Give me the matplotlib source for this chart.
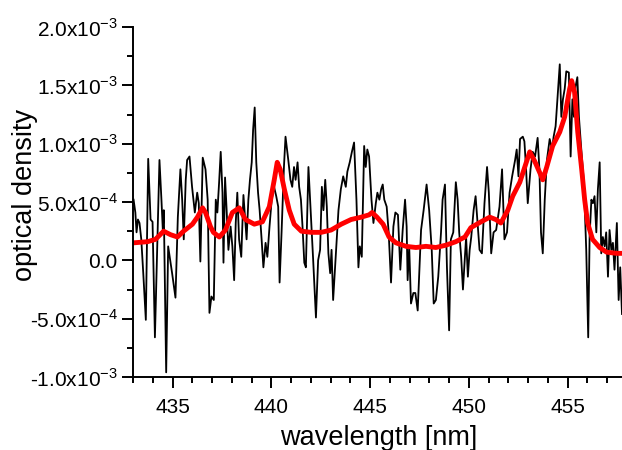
import numpy as np
import matplotlib
matplotlib.use("Agg")
import matplotlib.pyplot as plt
from matplotlib.ticker import MultipleLocator, FuncFormatter

plt.rcParams['font.family'] = ['Liberation Sans', 'DejaVu Sans']

# measured spectrum (black), wavelength in nm, optical density in units of 1e-4
wl_raw = [433.03, 433.12, 433.18, 433.25, 433.33, 433.42, 433.52, 433.65, 433.77, 433.89,
          433.99, 434.11, 434.23, 434.34, 434.44, 434.51, 434.56, 434.68, 434.78, 434.86,
          434.98, 435.15, 435.27, 435.40, 435.49, 435.57, 435.67, 435.74, 435.86, 435.99,
          436.13, 436.25, 436.33, 436.41, 436.53, 436.67, 436.78, 436.87, 436.97, 437.09,
          437.19, 437.27, 437.36, 437.44, 437.53, 437.58, 437.66, 437.74, 437.83, 437.94,
          438.03, 438.12, 438.20, 438.28, 438.37, 438.48, 438.59, 438.67, 438.75, 438.84,
          438.92, 439.01, 439.08, 439.16, 439.24, 439.33, 439.41, 439.51, 439.60, 439.71,
          439.80, 439.91, 440.02, 440.14, 440.25, 440.35, 440.42, 440.52, 440.64, 440.72,
          440.86, 440.97, 441.06, 441.15, 441.23, 441.33, 441.41, 441.50, 441.58, 441.67,
          441.75, 441.88, 442.01, 442.12, 442.26, 442.37, 442.47, 442.56, 442.64, 442.73,
          442.81, 442.89, 442.98, 443.05, 443.13, 443.27, 443.40, 443.52, 443.64, 443.77,
          443.85, 443.97, 444.08, 444.19, 444.31, 444.41, 444.48, 444.58, 444.70, 444.78,
          444.86, 444.95, 445.07, 445.17, 445.29, 445.37, 445.47, 445.56, 445.64, 445.72,
          445.84, 445.94, 446.06, 446.18, 446.28, 446.41, 446.53, 446.65, 446.77, 446.85,
          446.90, 446.98, 447.07, 447.19, 447.29, 447.41, 447.58, 447.71, 447.86, 447.99,
          448.12, 448.22, 448.33, 448.45, 448.59, 448.67, 448.79, 448.89, 449.00, 449.09,
          449.21, 449.34, 449.43, 449.51, 449.61, 449.70, 449.78, 449.86, 449.95, 450.04,
          450.12, 450.24, 450.34, 450.42, 450.54, 450.66, 450.79, 450.92, 451.01, 451.13,
          451.25, 451.38, 451.55, 451.68, 451.80, 451.93, 452.06, 452.19, 452.34, 452.42,
          452.51, 452.59, 452.73, 452.81, 452.89, 452.98, 453.12, 453.23, 453.35, 453.48,
          453.57, 453.65, 453.74, 453.84, 453.95, 454.09, 454.21, 454.29, 454.39, 454.48,
          454.60, 454.68, 454.76, 454.85, 454.93, 455.06, 455.15, 455.24, 455.32, 455.40,
          455.49, 455.57, 455.69, 455.82, 455.94, 456.04, 456.11, 456.20, 456.28, 456.36,
          456.45, 456.53, 456.62, 456.70, 456.78, 456.87, 456.95, 457.04, 457.12, 457.21,
          457.29, 457.37, 457.49, 457.58, 457.66, 457.75]
od_raw = [5.2, 4.1, 2.4, 3.5, 3.2, 1.8, -1.1, -5.1, 8.7, 3.5,
          3.3, -6.6, 1.5, 8.6, 5.2, 2.6, 4.3, -9.6, 1.2, 0.3,
          -1.1, -3.2, 3.7, 7.8, 5.2, 1.8, 6.9, 8.6, 8.9, 6.3,
          4.1, 5.8, 4.9, -0.1, 8.8, 7.8, 5.2, -4.5, -3.1, -3.4,
          5.2, 4.1, 6.7, 9.3, 5.8, -0.2, 7.1, 4.3, 0.9, 2.9,
          1.2, -1.7, 3.2, 5.8, 1.8, 0.3, 5.6, 3.7, 1.8, 5.2,
          6.9, 8.4, 11.2, 13.1, 8.4, 5.8, 4.3, 1.8, -0.6, 1.5,
          0.3, 2.9, 5.2, 6.3, 5.5, 4.6, -1.9, 2.4, 8.0, 10.6,
          8.6, 6.9, 6.3, 8.0, 6.9, 8.4, 6.3, 5.2, 2.9, -0.2,
          -0.6, 8.0, 3.7, 0.0, -4.9, 0.0, 0.9, 6.3, 4.3, 6.9,
          4.6, 0.6, -1.1, 0.9, -3.4, 0.6, 4.3, 6.1, 7.2, 6.3,
          7.6, 8.4, 9.3, 10.1, 5.2, -0.6, 1.2, 0.3, 9.8, 8.0,
          9.5, 8.9, 5.2, 3.2, 4.9, 5.8, 5.2, 6.1, 6.5, 5.2,
          4.6, 2.4, -1.9, 2.9, 4.1, 3.9, -0.8, 2.6, 5.2, 2.9,
          -1.7, 1.2, -3.7, -2.8, -2.8, -4.3, 2.6, 4.3, 6.5, 4.3,
          0.9, -3.7, -3.4, -1.4, 2.4, 5.2, 6.5, -0.6, -6.0, 1.8,
          2.4, 6.7, 5.2, 2.4, 0.3, -2.5, -0.2, 2.0, -1.4, 0.9,
          2.0, 4.3, 5.5, 3.7, 0.9, 0.6, 4.9, 8.0, 5.8, 0.6,
          2.4, 2.6, 4.6, 7.8, 1.8, 2.4, 5.8, 7.2, 8.6, 9.5,
          7.2, 10.4, 10.6, 10.2, 8.0, 4.9, 7.8, 9.3, 8.9, 10.5,
          7.8, 2.4, 0.6, 5.2, 8.6, 10.4, 9.5, 10.6, 11.5, 13.8,
          16.8, 12.3, 13.8, 14.7, 16.2, 16.1, 8.9, 13.8, 12.3, 14.9,
          15.7, 12.3, 9.5, 6.7, 0.9, -6.6, 2.0, 5.2, 4.9, 5.5,
          2.4, 6.1, 8.4, 0.6, 2.0, 1.2, 2.4, -1.4, 2.6, 0.9,
          1.5, -0.8, 3.2, -3.4, -0.6, -4.6]

# smoothed spectrum (red)
wl_fit = [433.03, 433.74, 434.14, 434.55, 434.90, 435.25, 435.56, 436.01, 436.26, 436.52,
          436.67, 436.92, 437.07, 437.37, 437.68, 438.03, 438.38, 438.69, 439.14, 439.55,
          439.90, 440.15, 440.30, 440.45, 440.66, 440.91, 441.16, 441.52, 442.02, 442.53,
          443.03, 443.54, 444.04, 444.55, 444.95, 445.10, 445.35, 445.66, 445.96, 446.31,
          446.82, 447.32, 447.83, 448.33, 448.84, 449.34, 449.80, 450.10, 450.61, 451.06,
          451.36, 451.62, 451.97, 452.22, 452.58, 452.83, 453.08, 453.33, 453.59, 453.74,
          453.94, 454.24, 454.60, 454.85, 455.10, 455.20, 455.35, 455.51, 455.71, 455.86,
          456.01, 456.26, 456.62, 456.97, 457.47, 457.75]
od_fit = [1.5, 1.6, 1.8, 2.5, 2.2, 2.0, 2.5, 3.1, 3.7, 4.5,
          4.1, 2.9, 2.4, 2.0, 2.6, 4.1, 4.5, 3.5, 3.1, 3.3,
          4.6, 6.9, 8.4, 7.8, 6.1, 4.3, 3.1, 2.5, 2.4, 2.4,
          2.6, 3.1, 3.5, 3.7, 3.9, 4.1, 3.7, 3.1, 2.0, 1.5,
          1.2, 1.1, 1.2, 1.1, 1.3, 1.6, 2.0, 2.8, 3.3, 3.7,
          3.5, 3.2, 4.3, 5.5, 6.7, 8.0, 9.3, 8.5, 7.5, 6.9,
          8.0, 9.8, 11.0, 12.3, 14.7, 15.4, 14.4, 11.0, 7.8, 5.2,
          3.2, 1.8, 1.1, 0.7, 0.6, 0.6]

scale = 1e-4


def sci_fmt(v, pos):
    if abs(v) < 1e-12:
        return '0.0'
    exp = int(np.floor(np.log10(abs(v))))
    mant = v / 10 ** exp
    return r'%.1fx10$^{\mathregular{%d}}$' % (mant, exp)


fig = plt.figure(figsize=(6.22, 4.5), dpi=100)
ax = fig.add_axes([0.2138, 0.1622, 0.7862, 0.7778])

ax.plot(wl_raw, np.array(od_raw) * scale, color='black', lw=1.3)
ax.plot(wl_fit, np.array(od_fit) * scale, color='#ff0000', lw=3.5,
        solid_joinstyle='round', solid_capstyle='round')

ax.set_xlim(433, 457.75)
ax.set_ylim(-1.0e-3, 2.0e-3)

ax.xaxis.set_major_locator(MultipleLocator(5))
ax.xaxis.set_minor_locator(MultipleLocator(1))
ax.yaxis.set_major_locator(MultipleLocator(5e-4))
ax.yaxis.set_minor_locator(MultipleLocator(2.5e-4))
ax.yaxis.set_major_formatter(FuncFormatter(sci_fmt))

for side in ['top', 'right']:
    ax.spines[side].set_visible(False)
for side in ['left', 'bottom']:
    ax.spines[side].set_linewidth(1.4)

ax.tick_params(which='major', direction='out', length=8, width=1.4, labelsize=15, pad=3)
ax.tick_params(which='minor', direction='out', length=4.5, width=1.4)
ax.tick_params(axis='x', which='major', pad=7)

ax.set_xlabel('wavelength [nm]', fontsize=19.5, va='center')
ax.set_ylabel('optical density', fontsize=19.5, va='center')
ax.xaxis.set_label_coords(0.503, -0.174)
ax.yaxis.set_label_coords(-0.221, 0.521)

fig.savefig('out.png', dpi=100)
